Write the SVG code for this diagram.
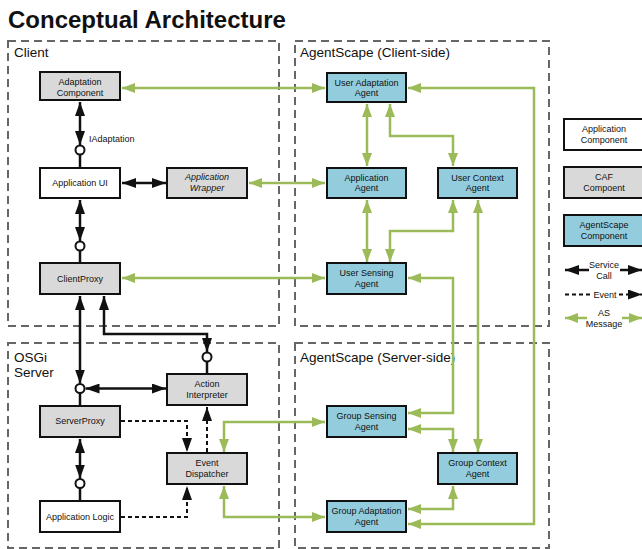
<svg xmlns="http://www.w3.org/2000/svg" width="642" height="549" viewBox="0 0 642 549">
<style>
text{font-family:"Liberation Sans",Arial,sans-serif;fill:#111}
.title{font-size:24px;font-weight:bold}
.cont{fill:none;stroke:#666;stroke-width:2;stroke-dasharray:8,5}
.clabel{font-size:13.5px}
.node rect{stroke:#111;stroke-width:2}
.app{fill:#fff}
.caf{fill:#d9d9d9}
.as{fill:#93cddd}
.nt{font-size:9px;text-anchor:middle}
.it{font-style:italic}
.g{fill:none;stroke:#9bbb59;stroke-width:2.5}
.b{fill:none;stroke:#111;stroke-width:2.5}
.d{fill:none;stroke:#111;stroke-width:2;stroke-dasharray:4,3}
.lol{fill:#fff;stroke:#111;stroke-width:2}
.lbl{font-size:9px}
</style>
<defs>
<marker id="ag" markerUnits="userSpaceOnUse" markerWidth="13" markerHeight="10" refX="13" refY="5" orient="auto-start-reverse"><path d="M0,0 L13,5 L0,10 z" fill="#9bbb59"/></marker>
<marker id="ab" markerUnits="userSpaceOnUse" markerWidth="14" markerHeight="10" refX="14" refY="5" orient="auto-start-reverse"><path d="M0,0 L14,5 L0,10 z" fill="#111"/></marker>
</defs>
<rect width="642" height="549" fill="#fff"/>
<text class="title" x="8" y="28">Conceptual Architecture</text>

<g id="containers">
<rect class="cont" x="8" y="41" width="271" height="285"/>
<rect class="cont" x="295" y="41" width="254" height="285"/>
<rect class="cont" x="8" y="343" width="271" height="205"/>
<rect class="cont" x="295" y="343" width="254" height="205"/>
<text class="clabel" x="14" y="57">Client</text>
<text class="clabel" x="300" y="57">AgentScape (Client-side)</text>
<text class="clabel" x="14" y="362">OSGi</text>
<text class="clabel" x="14" y="377">Server</text>
<text class="clabel" x="300" y="362">AgentScape (Server-side)</text>
</g>

<g id="connectors">
<path class="g" d="M122,88 H325" marker-start="url(#ag)" marker-end="url(#ag)"/>
<path class="g" d="M249,183 H325" marker-start="url(#ag)" marker-end="url(#ag)"/>
<path class="g" d="M122,278 H325" marker-start="url(#ag)" marker-end="url(#ag)"/>
<path class="g" d="M367,104 V166" marker-start="url(#ag)" marker-end="url(#ag)"/>
<path class="g" d="M390,104 V136 H453 V166" marker-start="url(#ag)" marker-end="url(#ag)"/>
<path class="g" d="M367,200 V262" marker-start="url(#ag)" marker-end="url(#ag)"/>
<path class="g" d="M453,200 V231 H390 V262" marker-start="url(#ag)" marker-end="url(#ag)"/>
<path class="g" d="M478,200 V452" marker-start="url(#ag)" marker-end="url(#ag)"/>
<path class="g" d="M408,278 H453 V413 H408" marker-start="url(#ag)" marker-end="url(#ag)"/>
<path class="g" d="M408,88 H534 V524 H408" marker-start="url(#ag)" marker-end="url(#ag)"/>
<path class="g" d="M408,429 H453 V452" marker-start="url(#ag)" marker-end="url(#ag)"/>
<path class="g" d="M408,509 H453 V486" marker-start="url(#ag)" marker-end="url(#ag)"/>
<path class="g" d="M224,452 V422 H325" marker-start="url(#ag)" marker-end="url(#ag)"/>
<path class="g" d="M224,486 V517 H325" marker-start="url(#ag)" marker-end="url(#ag)"/>

<path class="b" d="M80,102 V145" marker-start="url(#ab)" marker-end="url(#ab)"/>
<path class="b" d="M80,154 V167"/>
<circle class="lol" cx="80" cy="150" r="4.5"/>
<path class="b" d="M122,183 H166" marker-start="url(#ab)" marker-end="url(#ab)"/>
<path class="b" d="M80,200 V241" marker-start="url(#ab)" marker-end="url(#ab)"/>
<path class="b" d="M80,250 V262"/>
<circle class="lol" cx="80" cy="246" r="4.5"/>
<path class="b" d="M80,296 V383.5" marker-start="url(#ab)" marker-end="url(#ab)"/>
<path class="b" d="M80,393 V405"/>
<circle class="lol" cx="80" cy="388.5" r="4.5"/>
<path class="b" d="M85.5,388.5 H166" marker-start="url(#ab)" marker-end="url(#ab)"/>
<path class="b" d="M104,296 V334 H207 V352" marker-start="url(#ab)" marker-end="url(#ab)"/>
<path class="b" d="M207,361 V373"/>
<circle class="lol" cx="207" cy="357" r="4.5"/>
<path class="b" d="M80,439 V478.5" marker-start="url(#ab)" marker-end="url(#ab)"/>
<path class="b" d="M80,488 V500"/>
<circle class="lol" cx="80" cy="483.5" r="4.5"/>
<text class="lbl" x="89" y="142">IAdaptation</text>

<path class="d" d="M121,421 H187 V452" marker-end="url(#ab)"/>
<path class="d" d="M207,452 V407" marker-end="url(#ab)"/>
<path class="d" d="M121,517 H187 V486" marker-end="url(#ab)"/>
</g>

<g id="n-adaptation-component" class="node"><rect class="caf" x="40" y="72" width="80" height="28"/><text class="nt" x="80" y="85">Adaptation</text><text class="nt" x="80" y="95.5">Component</text></g>
<g id="n-application-ui" class="node"><rect class="app" x="40" y="168" width="80" height="30"/><text class="nt" x="80" y="186">Application UI</text></g>
<g id="n-application-wrapper" class="node"><rect class="caf" x="167" y="168" width="80" height="30"/><text class="nt it" x="207" y="180">Application</text><text class="nt it" x="207" y="191">Wrapper</text></g>
<g id="n-clientproxy" class="node"><rect class="caf" x="40" y="263" width="80" height="31"/><text class="nt" x="80" y="281.5">ClientProxy</text></g>

<g id="n-user-adaptation-agent" class="node"><rect class="as" x="327" y="73" width="79" height="29"/><text class="nt" x="366.5" y="85.5">User Adaptation</text><text class="nt" x="366.5" y="96">Agent</text></g>
<g id="n-application-agent" class="node"><rect class="as" x="327" y="168" width="79" height="30"/><text class="nt" x="366.5" y="180.5">Application</text><text class="nt" x="366.5" y="191">Agent</text></g>
<g id="n-user-context-agent" class="node"><rect class="as" x="438" y="168" width="79" height="30"/><text class="nt" x="477.5" y="180.5">User Context</text><text class="nt" x="477.5" y="191">Agent</text></g>
<g id="n-user-sensing-agent" class="node"><rect class="as" x="327" y="263" width="79" height="31"/><text class="nt" x="366.5" y="276">User Sensing</text><text class="nt" x="366.5" y="287">Agent</text></g>

<g id="n-action-interpreter" class="node"><rect class="caf" x="167" y="374" width="80" height="31"/><text class="nt" x="207" y="387">Action</text><text class="nt" x="207" y="398">Interpreter</text></g>
<g id="n-serverproxy" class="node"><rect class="caf" x="40" y="406" width="80" height="31"/><text class="nt" x="80" y="424">ServerProxy</text></g>
<g id="n-event-dispatcher" class="node"><rect class="caf" x="167" y="453" width="80" height="31"/><text class="nt" x="207" y="466">Event</text><text class="nt" x="207" y="477">Dispatcher</text></g>
<g id="n-application-logic" class="node"><rect class="app" x="40" y="501" width="80" height="31"/><text class="nt" x="80" y="519.5">Application Logic</text></g>

<g id="n-group-sensing-agent" class="node"><rect class="as" x="327" y="406" width="79" height="31"/><text class="nt" x="366.5" y="419">Group Sensing</text><text class="nt" x="366.5" y="430">Agent</text></g>
<g id="n-group-context-agent" class="node"><rect class="as" x="438" y="453" width="79" height="31"/><text class="nt" x="477.5" y="466">Group Context</text><text class="nt" x="477.5" y="477">Agent</text></g>
<g id="n-group-adaptation-agent" class="node"><rect class="as" x="327" y="501" width="79" height="31"/><text class="nt" x="366.5" y="514">Group Adaptation</text><text class="nt" x="366.5" y="525">Agent</text></g>

<g id="legend">
<g class="node"><rect class="app" x="564" y="119" width="80" height="31"/><text class="nt" x="604" y="132">Application</text><text class="nt" x="604" y="143">Component</text></g>
<g class="node"><rect class="caf" x="564" y="167" width="80" height="31"/><text class="nt" x="604" y="180">CAF</text><text class="nt" x="604" y="191">Compoent</text></g>
<g class="node"><rect class="as" x="564" y="215" width="80" height="31"/><text class="nt" x="604" y="228">AgentScape</text><text class="nt" x="604" y="239">Component</text></g>
<path class="b" d="M589,270 H565" marker-end="url(#ab)"/>
<path class="b" d="M620,270 H642" marker-end="url(#ab)"/>
<text class="nt" x="604" y="268">Service</text>
<text class="nt" x="604" y="279">Call</text>
<path class="d" d="M565,294.5 H591"/>
<path class="d" d="M619,294.5 H642" marker-end="url(#ab)"/>
<text class="nt" x="605" y="298">Event</text>
<path class="g" d="M587,318 H565" marker-end="url(#ag)"/>
<path class="g" d="M622,318 H642" marker-end="url(#ag)"/>
<text class="nt" x="604" y="316">AS</text>
<text class="nt" x="604" y="327">Message</text>
</g>
</svg>
